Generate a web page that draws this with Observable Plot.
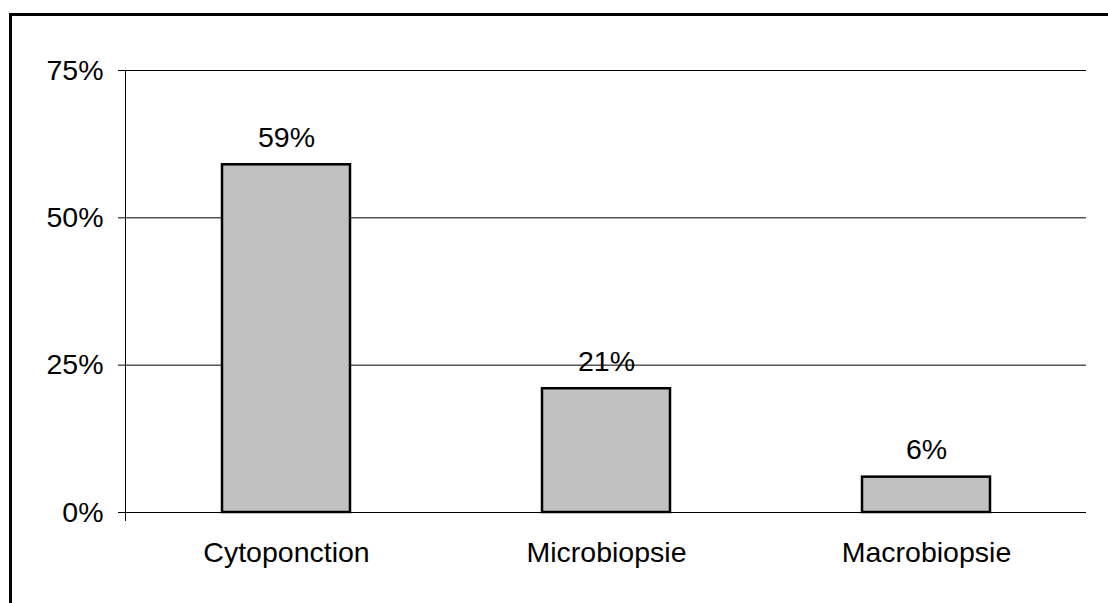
<!DOCTYPE html>
<html>
<head>
<meta charset="utf-8">
<script src="https://cdn.jsdelivr.net/npm/d3@7"></script>
<script src="https://cdn.jsdelivr.net/npm/@observablehq/plot@0.6"></script>
<style>
  html, body { margin: 0; padding: 0; background: #fff; overflow: hidden; width: 1108px; height: 603px; }
  #wrap { position: relative; width: 1108px; height: 603px; }
  #frame { position: absolute; left: 9px; top: 13px; width: 1200px; height: 700px;
           border-left: 3px solid #000; border-top: 3px solid #000; pointer-events: none; }
  svg { display: block; }
</style>
</head>
<body>
<div id="wrap"><div id="frame"></div></div>
<script>
const categories = ["Cytoponction", "Microbiopsie", "Macrobiopsie"];
const values = [0.59, 0.21, 0.06];
const valueLabels = ["59%", "21%", "6%"];
const yTicks = [0, 0.25, 0.5, 0.75];

const data = categories.map((c, i) => ({cat: c, v: values[i], label: valueLabels[i]}));

const chart = Plot.plot({
  width: 1108,
  height: 603,
  marginLeft: 125,
  marginRight: 22,
  marginTop: 70,
  marginBottom: 91,
  style: {fontFamily: "'Liberation Sans', Arial, sans-serif", fontSize: "28.5px", color: "#000", background: "transparent"},
  x: {domain: categories, paddingInner: 0.6, paddingOuter: 0.3, label: null},
  y: {domain: [0, 0.75], label: null},
  marks: [
    Plot.ruleY(yTicks, {stroke: "#000", strokeWidth: 1}),
    Plot.frame({anchor: "left", stroke: "#000", strokeWidth: 1, insetBottom: -8}),
    Plot.axisY({ticks: yTicks, tickFormat: d => Math.round(d * 100) + "%", tickSize: 7, tickPadding: 15, stroke: "#000", label: null}),
    Plot.axisX({tickSize: 0, tickPadding: 29, label: null}),
    Plot.barY(data, {x: "cat", y: "v", fill: "#c0c0c0", stroke: "#000", strokeWidth: 2.5}),
    Plot.text(data, {x: "cat", y: "v", text: "label", lineAnchor: "bottom", dy: -18, fill: "#000"})
  ]
});
document.getElementById("wrap").prepend(chart);
</script>
</body>
</html>
